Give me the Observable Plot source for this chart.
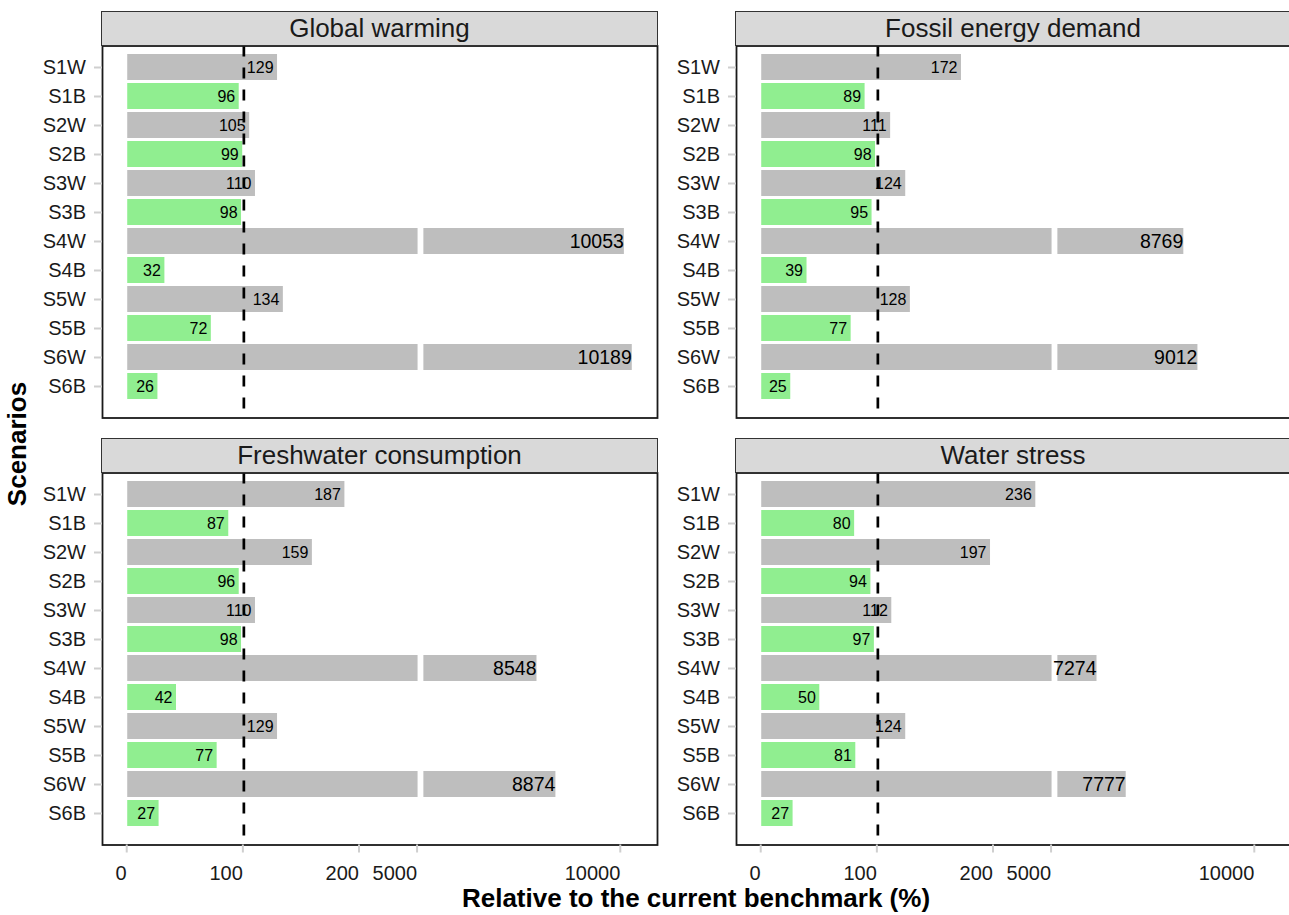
<!DOCTYPE html>
<html>
<head>
<meta charset="utf-8">
<script src="https://cdn.jsdelivr.net/npm/d3@7"></script>
<script src="https://cdn.jsdelivr.net/npm/@observablehq/plot@0.6"></script>
<style>
  html, body { margin: 0; padding: 0; background: #fff; overflow: hidden; }
  #root { position: relative; width: 1289px; height: 915px; overflow: hidden;
          font-family: "Liberation Sans", Arial, Helvetica, sans-serif; color: #1a1a1a; }
  .panel { position: absolute; }
  .strip { position: absolute; box-sizing: border-box; background: #d9d9d9; border: 1.7px solid #333;
           display: flex; align-items: center; justify-content: center; font-size: 26px; color: #1a1a1a; white-space: nowrap; }
  .xtitle { position: absolute; left: 296px; width: 800px; top: 884.5px; height: 26px; line-height: 26px;
            text-align: center; font-weight: bold; font-size: 26px; color: #000; }
  .ytitle { position: absolute; left: 17px; top: 444px; width: 300px; height: 30px; line-height: 30px;
            text-align: center; font-weight: bold; font-size: 26px; color: #000;
            transform: translate(-50%, -50%) rotate(-90deg); }
</style>
</head>
<body>
<div id="root"></div>
<script>
// ---------------- data ----------------
const scenarios = ["S1W","S1B","S2W","S2B","S3W","S3B","S4W","S4B","S5W","S5B","S6W","S6B"];
const impacts = ["Global warming", "Fossil energy demand", "Freshwater consumption", "Water stress"];
const globalWarming = [129, 96, 105, 99, 110, 98, 10053, 32, 134, 72, 10189, 26];
const fossilEnergy  = [172, 89, 111, 98, 124, 95, 8769, 39, 128, 77, 9012, 25];
const freshwater    = [187, 87, 159, 96, 110, 98, 8548, 42, 129, 77, 8874, 27];
const waterStress   = [236, 80, 197, 94, 112, 97, 7274, 50, 124, 81, 7777, 27];
const xTickValues = [0, 100, 200, 5000, 10000];
const benchmark = 100;
const xTitle = "Relative to the current benchmark (%)";
const yTitle = "Scenarios";

// ---------------- broken axis ----------------
const BREAK_LOW = 250, BREAK_HIGH = 6500, BREAK_COMPRESS = 20, BREAK_GAP = 5;
function brk(v) {
  if (v <= BREAK_LOW) return v;
  if (v < BREAK_HIGH) return BREAK_LOW;
  return BREAK_LOW + (v - BREAK_HIGH) / BREAK_COMPRESS;
}

const seriesValues = [globalWarming, fossilEnergy, freshwater, waterStress];
const maxT = d3.max(seriesValues.flat(), brk);
const xDomain = [-0.05 * maxT, 1.05 * maxT];
const tickLabel = new Map(xTickValues.map(v => [brk(v), String(v)]));

const GREEN = "#90EE90", GREY = "#BEBEBE";
const FONT = '"Liberation Sans", Arial, Helvetica, sans-serif';

// ---------------- layout ----------------
const PANEL_W = 555, PANEL_H = 372, STRIP_H = 35;
const colX = [102, 735.5];
const rowY = [45.5, 472.5];
const root = document.getElementById("root");

impacts.forEach((name, i) => {
  const r = Math.floor(i / 2), c = i % 2;
  const rows = scenarios.map((s, j) => ({scenario: s, value: seriesValues[i][j], group: s.endsWith("B") ? "B" : "W"}));
  const segs = rows.flatMap(d => d.value > BREAK_LOW
    ? [{...d, x1: 0, x2: BREAK_LOW}, {...d, x1: BREAK_LOW + BREAK_GAP, x2: brk(d.value)}]
    : [{...d, x1: 0, x2: d.value}]);

  const mL = c === 0 ? 100 : 75;
  const mT = 5.5;
  const mB = r === 0 ? 4 : 46;
  const mR = 3;
  const width = mL + PANEL_W + mR;
  const height = mT + PANEL_H + mB;
  const bottom = r === 1;

  const marks = [
    Plot.barX(segs.filter(d => d.group === "W"), {x1: "x1", x2: "x2", y: "scenario", fill: GREY}),
    Plot.barX(segs.filter(d => d.group === "B"), {x1: "x1", x2: "x2", y: "scenario", fill: GREEN}),
    Plot.text(rows.filter(d => d.value <= BREAK_LOW), {
      x: d => brk(d.value), y: "scenario", text: d => String(d.value),
      textAnchor: "end", dx: -4, fontSize: 16, fill: "#000"
    }),
    Plot.text(rows.filter(d => d.value > BREAK_LOW), {
      x: d => brk(d.value), y: "scenario", text: d => String(d.value),
      textAnchor: "end", dx: -0.5, fontSize: 19.5, fill: "#000"
    }),
    Plot.ruleX([benchmark], {x: d => brk(d), stroke: "#000", strokeWidth: 2.7, strokeDasharray: "11,11"}),
    Plot.frame({stroke: "#1a1a1a", strokeWidth: 1.8}),
    Plot.axisY({tickSize: 8, tickPadding: 8.5, stroke: "#cfcfcf", strokeWidth: 2, fill: "#1a1a1a", fontSize: 20, label: null})
  ];
  if (bottom) {
    marks.push(Plot.axisX({
      ticks: xTickValues.map(brk), tickFormat: t => tickLabel.get(t),
      tickSize: 8, tickPadding: 12.5, textAnchor: "end", dx: -1,
      stroke: "#cfcfcf", strokeWidth: 2, fill: "#1a1a1a", fontSize: 20, label: null
    }));
  }

  const chart = Plot.plot({
    width, height,
    marginLeft: mL, marginRight: mR, marginTop: mT, marginBottom: mB,
    style: {fontFamily: FONT, background: "none", maxWidth: "none", overflow: "visible"},
    x: bottom ? {domain: xDomain} : {domain: xDomain, axis: null},
    y: {domain: scenarios, paddingInner: 0.1, paddingOuter: 0.05, insetTop: 3.5, insetBottom: 13.3},
    marks
  });

  const holder = document.createElement("div");
  holder.className = "panel";
  holder.style.left = (colX[c] - mL) + "px";
  holder.style.top = (rowY[r] - mT) + "px";
  holder.style.width = width + "px";
  holder.style.height = height + "px";
  holder.appendChild(chart);
  root.appendChild(holder);

  const strip = document.createElement("div");
  strip.className = "strip";
  strip.style.left = (colX[c] - 0.85) + "px";
  strip.style.top = (rowY[r] - STRIP_H) + "px";
  strip.style.width = (PANEL_W + 1.7) + "px";
  strip.style.height = (STRIP_H + 0.85) + "px";
  strip.textContent = name;
  root.appendChild(strip);
});

const xt = document.createElement("div");
xt.className = "xtitle";
xt.textContent = xTitle;
root.appendChild(xt);

const yt = document.createElement("div");
yt.className = "ytitle";
yt.textContent = yTitle;
root.appendChild(yt);
</script>
</body>
</html>
